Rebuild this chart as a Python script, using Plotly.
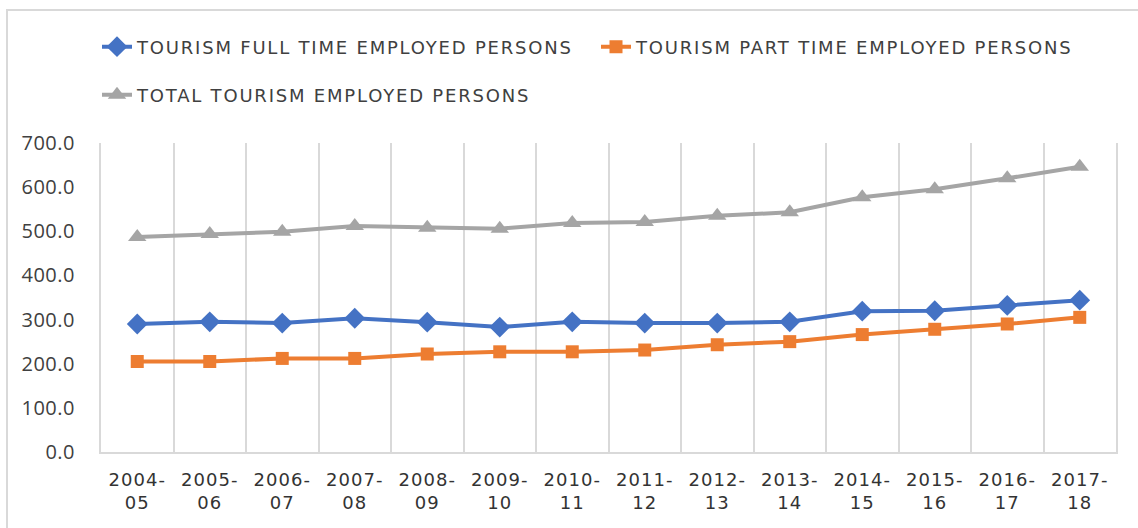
import plotly.graph_objects as go

# Financial years shown on the category axis
years = ["2004-05", "2005-06", "2006-07", "2007-08", "2008-09", "2009-10", "2010-11",
         "2011-12", "2012-13", "2013-14", "2014-15", "2015-16", "2016-17", "2017-18"]

# Employed persons (thousands)
full_time = [290, 295, 292, 303, 294, 283, 295, 292, 292, 295, 319, 320, 332, 344]
part_time = [205, 205, 212, 212, 222, 227, 227, 231, 243, 250, 266, 278, 290, 305]
total = [487, 494, 499, 512, 508, 506, 519, 521, 535, 543, 577, 595, 620, 646]

y_ticks = [0, 100, 200, 300, 400, 500, 600, 700]

W, H = 1138, 528
M_L, M_R, M_T, M_B = 101, 22, 143, 76
PW, PH = W - M_L - M_R, H - M_T - M_B


def px_x(p):
    return (p - M_L) / PW


def px_y(p):
    return (H - M_B - p) / PH


tick_text = [y.replace("-", "-<br>") for y in years]

TEXT = "#404040"
GRID = "#d9d9d9"

fig = go.Figure()
fig.add_trace(go.Scatter(
    x=years, y=full_time, name="TOURISM FULL TIME EMPLOYED PERSONS",
    mode="lines+markers", line=dict(color="#4472C4", width=4),
    marker=dict(symbol="diamond", size=16, color="#4472C4"), legend="legend"))
fig.add_trace(go.Scatter(
    x=years, y=part_time, name="TOURISM PART TIME EMPLOYED PERSONS",
    mode="lines+markers", line=dict(color="#ED7D31", width=4),
    marker=dict(symbol="square", size=13, color="#ED7D31"), legend="legend"))
fig.add_trace(go.Scatter(
    x=years, y=total, name="TOTAL TOURISM EMPLOYED PERSONS",
    mode="lines+markers", line=dict(color="#A5A5A5", width=4),
    marker=dict(symbol="triangle-up", size=16, color="#A5A5A5"), legend="legend2"))

legend_font = dict(family="DejaVu Sans", size=18, color=TEXT)

fig.update_layout(
    width=W, height=H,
    margin=dict(l=M_L, r=M_R, t=M_T, b=M_B),
    paper_bgcolor="white", plot_bgcolor="white",
    showlegend=True,
    legend=dict(orientation="h", x=px_x(97), y=px_y(47), xanchor="left", yanchor="middle",
                entrywidth=454, entrywidthmode="pixels", font=legend_font,
                bgcolor="rgba(0,0,0,0)", itemwidth=30),
    legend2=dict(orientation="h", x=px_x(97), y=px_y(95), xanchor="left", yanchor="middle",
                 entrywidth=454, entrywidthmode="pixels", font=legend_font,
                 bgcolor="rgba(0,0,0,0)", itemwidth=30),
    xaxis=dict(type="category", range=[-0.5, len(years) - 0.5], tickmode="array",
               tickvals=years, ticktext=tick_text, tickson="boundaries", ticks="",
               showgrid=True, gridcolor=GRID, gridwidth=2,
               showline=True, linecolor=GRID, linewidth=2, ticklabelstandoff=10,
               tickfont=dict(family="DejaVu Sans", size=18, color="#333333"),
               fixedrange=True),
    yaxis=dict(range=[0, 700], tickmode="array", tickvals=y_ticks,
               ticktext=[f"{v:.1f}" for v in y_ticks], showgrid=False,
               zeroline=False, showline=True, mirror=True, linecolor=GRID, linewidth=2,
               ticks="", ticklabelstandoff=20,
               tickfont=dict(family="Open Sans", size=20, color=TEXT),
               fixedrange=True),
    shapes=[dict(type="rect", xref="paper", yref="paper",
                 x0=px_x(7), x1=px_x(W + 20), y0=px_y(H + 20), y1=px_y(10),
                 line=dict(color=GRID, width=2), fillcolor="rgba(0,0,0,0)", layer="below")],
)

# Letter spacing for the label texts, set through a stylesheet so that it also
# covers elements drawn after this script runs.
post = ("var s=document.createElement('style');"
        "s.textContent='.xtick text{letter-spacing:1px}"
        ".ytick text{letter-spacing:0.5px}"
        ".infolayer text{letter-spacing:1.8px !important}';"
        "document.head.appendChild(s);")

fig.write_html("out.html", post_script=post, config={"displayModeBar": False})
